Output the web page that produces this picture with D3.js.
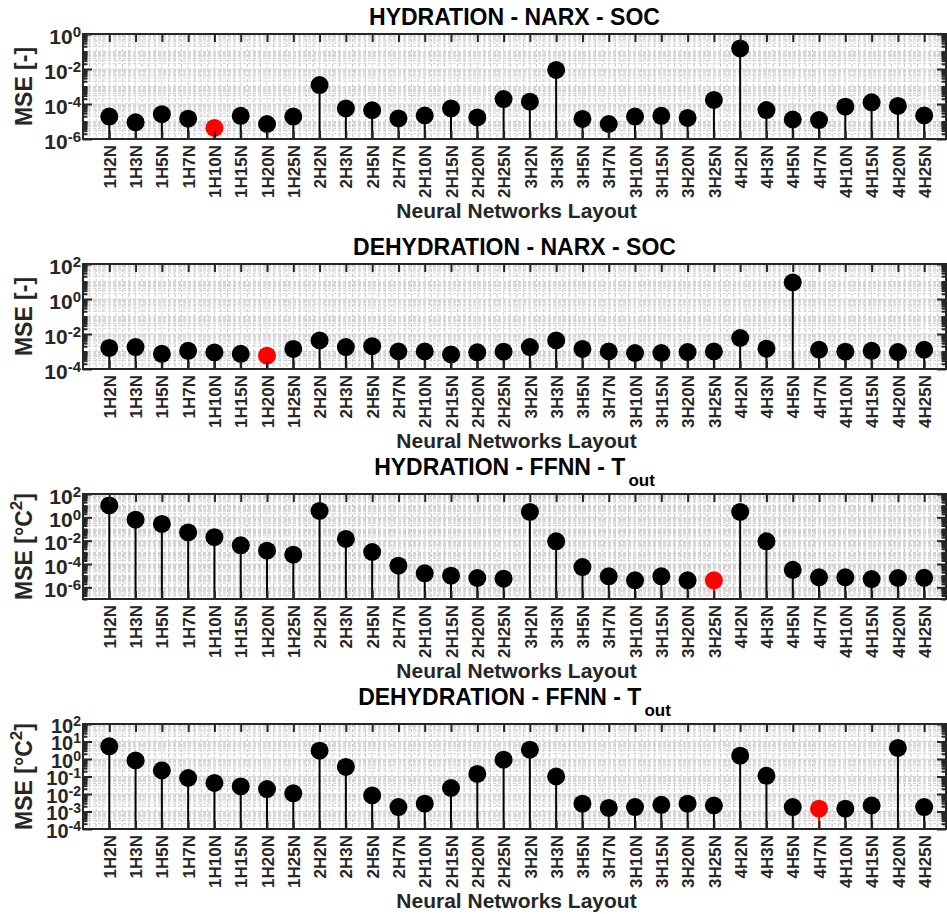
<!DOCTYPE html>
<html>
<head>
<meta charset="utf-8">
<script src="https://cdn.jsdelivr.net/npm/d3@7"></script>
<style>
  body { margin: 0; background: #fff; }
  svg { display: block; font-family: "Liberation Sans", Arial, Helvetica, sans-serif; font-weight: bold; }
</style>
</head>
<body>
<svg id="chart" width="947" height="914"></svg>
<script>
// Network layouts: hidden layers (H) and neurons per layer (N)
const layouts = [
  "1H2N","1H3N","1H5N","1H7N","1H10N","1H15N","1H20N","1H25N",
  "2H2N","2H3N","2H5N","2H7N","2H10N","2H15N","2H20N","2H25N",
  "3H2N","3H3N","3H5N","3H7N","3H10N","3H15N","3H20N","3H25N",
  "4H2N","4H3N","4H5N","4H7N","4H10N","4H15N","4H20N","4H25N"
];

// Mean squared error per layout
const hydrationNarxSoc = [
  1.9e-5, 9e-6, 2.6e-5, 1.45e-5, 4.3e-6, 2.1e-5, 7.2e-6, 1.9e-5,
  1.2e-3, 5.6e-5, 4.4e-5, 1.5e-5, 2.2e-5, 5.6e-5, 1.7e-5, 1.9e-4,
  1.35e-4, 8.8e-3, 1.4e-5, 7.2e-6, 1.9e-5, 2.1e-5, 1.6e-5, 1.7e-4,
  0.15, 4.5e-5, 1.3e-5, 1.2e-5, 7e-5, 1.25e-4, 7.7e-5, 2.2e-5
];
const dehydrationNarxSoc = [
  1.6e-3, 1.8e-3, 7.4e-4, 1.1e-3, 8.9e-4, 7.4e-4, 5.8e-4, 1.4e-3,
  4.3e-3, 1.8e-3, 2.0e-3, 1.0e-3, 1.0e-3, 6.8e-4, 9e-4, 9.8e-4,
  1.8e-3, 4.3e-3, 1.4e-3, 1.0e-3, 8.2e-4, 8.2e-4, 9.3e-4, 1.0e-3,
  5.9e-3, 1.45e-3, 8.9, 1.26e-3, 9.8e-4, 1.1e-3, 9.3e-4, 1.26e-3
];
const hydrationFfnnTout = [
  10.5, 0.63, 0.27, 0.051, 0.02, 4e-3, 1.4e-3, 6.3e-4,
  3.5, 0.014, 1.07e-3, 7.2e-5, 1.6e-5, 1e-5, 6.3e-6, 5.5e-6,
  2.9, 8.7e-3, 5.5e-5, 8.7e-6, 4e-6, 8.7e-6, 4e-6, 4e-6,
  2.9, 8.7e-3, 3.2e-5, 7.2e-6, 7.2e-6, 5.1e-6, 6.3e-6, 6.5e-6
];
const dehydrationFfnnTout = [
  5.3, 0.83, 0.22, 0.082, 0.043, 0.027, 0.019, 0.011,
  3.0, 0.35, 8.3e-3, 1.8e-3, 2.8e-3, 0.022, 0.14, 0.91,
  3.4, 0.10, 2.8e-3, 1.6e-3, 1.8e-3, 2.4e-3, 2.8e-3, 2.2e-3,
  1.55, 0.11, 1.8e-3, 1.45e-3, 1.45e-3, 2.2e-3, 4.3, 1.8e-3
];

const seriesList = [hydrationNarxSoc, dehydrationNarxSoc, hydrationFfnnTout, dehydrationFfnnTout];
const titleMain = ["HYDRATION - NARX - SOC", "DEHYDRATION - NARX - SOC", "HYDRATION - FFNN - T", "DEHYDRATION - FFNN - T"];
const titleSub = ["", "", "out", "out"];
const bestLayouts = ["1H10N", "1H20N", "3H25N", "4H7N"];
const yUnitMain = ["MSE [-]", "MSE [-]", "MSE [°C", "MSE [°C"];
const yUnitSup = ["", "", "2", "2"];
const yLimits = [[1e-6, 1e0], [1e-4, 1e2], [1e-7, 1e2], [1e-4, 1e2]];
const yTickExponents = [[-6, -4, -2, 0], [-4, -2, 0, 2], [-6, -4, -2, 0, 2], [-4, -3, -2, -1, 0, 1, 2]];
const xLabel = "Neural Networks Layout";

// ---- layout ----
const svg = d3.select("#chart");
const plotLeft = 83, plotRight = 946, plotH = 105;
const panelTops = [34, 264, 494, 724];
const axisColor = "#262626";
const stemRed = [false, false, true, true];

const x = d3.scaleLinear().domain([0, 32.83]).range([plotLeft, plotRight]);
const positions = d3.range(1, layouts.length + 1);

seriesList.forEach((values, p) => {
  const top = panelTops[p], bottom = top + plotH;
  const g = svg.append("g");
  const y = d3.scaleLog().domain(yLimits[p]).range([bottom, top]);

  const majors = yTickExponents[p].map(e => Math.pow(10, e));
  const lo = Math.log10(yLimits[p][0]), hi = Math.log10(yLimits[p][1]);
  const minors = [];
  for (let e = Math.floor(lo); e < Math.ceil(hi); e++) {
    for (let k = 1; k <= 9; k++) {
      const lv = e + Math.log10(k);
      if (lv < lo - 1e-9 || lv > hi + 1e-9) continue;
      if (k === 1 && yTickExponents[p].includes(e)) continue;
      minors.push(Math.pow(10, lv));
    }
  }

  // grid
  const grid = g.append("g");
  const xMinor = d3.range(0.25, 32.83, 0.25).filter(t => Math.abs(t - Math.round(t)) > 1e-6);
  grid.selectAll(".vminor").data(xMinor).join("line")
    .attr("x1", d => x(d)).attr("x2", d => x(d)).attr("y1", top).attr("y2", bottom)
    .attr("stroke", "#c4c4c4").attr("stroke-width", 1).attr("stroke-dasharray", "3,2");
  grid.selectAll(".hminor").data(minors).join("line")
    .attr("x1", plotLeft).attr("x2", plotRight).attr("y1", d => y(d)).attr("y2", d => y(d))
    .attr("stroke", "#d0d0d0").attr("stroke-width", 1).attr("stroke-dasharray", "3,2");
  grid.selectAll(".vmajor").data(positions).join("line")
    .attr("x1", d => x(d)).attr("x2", d => x(d)).attr("y1", top).attr("y2", bottom)
    .attr("stroke", "#dcdcdc").attr("stroke-width", 1);
  grid.selectAll(".hmajor").data(majors).join("line")
    .attr("x1", plotLeft).attr("x2", plotRight).attr("y1", d => y(d)).attr("y2", d => y(d))
    .attr("stroke", "#d8d8d8").attr("stroke-width", 1);

  // stems and markers
  const best = bestLayouts[p];
  const colorOf = (i, isStem) => (layouts[i] === best && (!isStem || stemRed[p])) ? "#ff0000" : "#000000";
  g.append("g").selectAll("line").data(values).join("line")
    .attr("x1", (d, i) => x(i + 1)).attr("x2", (d, i) => x(i + 1))
    .attr("y1", bottom).attr("y2", d => y(d))
    .attr("stroke", (d, i) => colorOf(i, true)).attr("stroke-width", 2);
  g.append("g").selectAll("circle").data(values).join("circle")
    .attr("cx", (d, i) => x(i + 1)).attr("cy", d => y(d)).attr("r", 9)
    .attr("fill", (d, i) => colorOf(i, false));

  // axes
  const styleAxis = sel => {
    sel.select(".domain").remove();
    sel.selectAll(".tick line").attr("stroke", axisColor).attr("stroke-width", 2);
  };
  g.append("g").attr("transform", `translate(0,${top})`)
    .call(d3.axisTop(x).tickValues(positions).tickSize(-8).tickFormat(""))
    .call(styleAxis);

  const xb = g.append("g").attr("transform", `translate(0,${bottom})`)
    .call(d3.axisBottom(x).tickValues(positions).tickSize(-8).tickFormat(i => layouts[i - 1]))
    .call(styleAxis);
  xb.selectAll(".tick text")
    .attr("transform", "rotate(-90)")
    .attr("x", -6).attr("y", 0).attr("dy", "0.36em")
    .attr("text-anchor", "end")
    .attr("font-size", 17).attr("font-weight", "bold")
    .attr("font-family", "Liberation Sans, Arial, sans-serif")
    .attr("fill", axisColor);

  // decade labels; the every-decade axis is packed tighter
  const crowded = yTickExponents[p].length > 5;
  const yl = g.append("g").attr("transform", `translate(${plotLeft},0)`)
    .call(d3.axisLeft(y).tickValues(majors).tickSize(-9).tickPadding(2).tickFormat(""))
    .call(styleAxis);
  yl.selectAll(".tick text").each(function(d) {
    const t = d3.select(this)
      .attr("dy", crowded ? 8 : 9).attr("text-anchor", "end")
      .attr("font-family", "Liberation Sans, Arial, sans-serif")
      .attr("font-weight", "bold").attr("fill", axisColor);
    const e = Math.round(Math.log10(d));
    t.append("tspan").attr("font-size", crowded ? 20 : 21).text("10");
    t.append("tspan").attr("font-size", crowded ? 14 : 15).attr("dy", -7).text(String(e));
  });
  g.append("g").attr("transform", `translate(${plotLeft},0)`)
    .call(d3.axisLeft(y).tickValues(minors).tickSize(-4.5).tickFormat(""))
    .call(styleAxis);
  g.append("g").attr("transform", `translate(${plotRight},0)`)
    .call(d3.axisRight(y).tickValues(majors).tickSize(-9).tickFormat(""))
    .call(styleAxis);
  g.append("g").attr("transform", `translate(${plotRight},0)`)
    .call(d3.axisRight(y).tickValues(minors).tickSize(-4.5).tickFormat(""))
    .call(styleAxis);

  // frame
  g.append("rect").attr("x", plotLeft).attr("y", top)
    .attr("width", plotRight - plotLeft).attr("height", plotH)
    .attr("fill", "none").attr("stroke", axisColor).attr("stroke-width", 2);

  // title
  const hasSub = titleSub[p] !== "";
  const title = g.append("text")
    .attr("x", (plotLeft + plotRight) / 2)
    .attr("y", top - (hasSub ? 19 : 9))
    .attr("text-anchor", "middle").attr("font-size", 23).attr("fill", "#000");
  title.append("tspan").text(titleMain[p]);
  if (hasSub) title.append("tspan").attr("font-size", 17).attr("dy", 11).attr("dx", 3).text(titleSub[p]);

  // axis labels
  g.append("text")
    .attr("x", (plotLeft + plotRight) / 2 + 2).attr("y", top + 184)
    .attr("text-anchor", "middle").attr("font-size", 21).attr("fill", axisColor)
    .text(xLabel);

  const yLab = g.append("text")
    .attr("transform", `translate(32,${(top + bottom) / 2}) rotate(-90)`)
    .attr("text-anchor", "middle").attr("font-size", 23).attr("fill", axisColor);
  yLab.append("tspan").text(yUnitMain[p]);
  if (yUnitSup[p]) {
    yLab.append("tspan").attr("font-size", 17).attr("dy", -10).text(yUnitSup[p]);
    yLab.append("tspan").attr("dy", 10).text("]");
  }
});
</script>
</body>
</html>
